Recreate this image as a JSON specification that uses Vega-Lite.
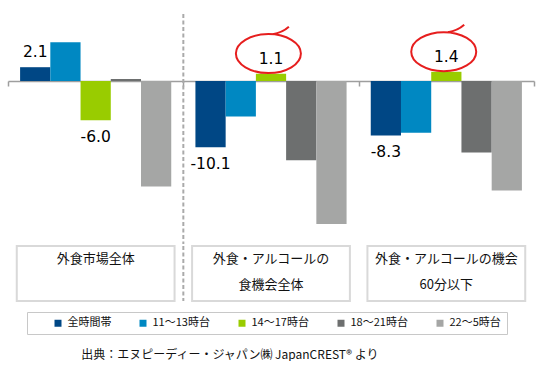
{
  "$schema": "https://vega.github.io/schema/vega-lite/v6.json",
  "padding": {"left": 7, "top": 13, "right": 4, "bottom": 0},
  "background": "white",
  "spacing": 0,
  "config": {
    "view": {"stroke": null},
    "axisX": {"labels": false, "tickBand": "extent", "tickSize": 5, "tickColor": "#9e9e9e", "domainColor": "#9e9e9e", "domainWidth": 1.5, "tickWidth": 1.5, "grid": false, "offset": -163}
  },
  "datasets": {
    "bars": [
      {"group": "外食市場全体", "series": "全時間帯", "value": 2.1, "label": "2.1"},
      {"group": "外食市場全体", "series": "11～13時台", "value": 5.9, "label": ""},
      {"group": "外食市場全体", "series": "14～17時台", "value": -6.0, "label": "-6.0"},
      {"group": "外食市場全体", "series": "18～21時台", "value": 0.3, "label": ""},
      {"group": "外食市場全体", "series": "22～5時台", "value": -16.1, "label": ""},
      {"group": "外食・アルコールの食機会全体", "series": "全時間帯", "value": -10.1, "label": "-10.1"},
      {"group": "外食・アルコールの食機会全体", "series": "11～13時台", "value": -5.4, "label": ""},
      {"group": "外食・アルコールの食機会全体", "series": "14～17時台", "value": 1.1, "label": "1.1"},
      {"group": "外食・アルコールの食機会全体", "series": "18～21時台", "value": -12.1, "label": ""},
      {"group": "外食・アルコールの食機会全体", "series": "22～5時台", "value": -21.8, "label": ""},
      {"group": "外食・アルコールの機会60分以下", "series": "全時間帯", "value": -8.3, "label": "-8.3"},
      {"group": "外食・アルコールの機会60分以下", "series": "11～13時台", "value": -7.9, "label": ""},
      {"group": "外食・アルコールの機会60分以下", "series": "14～17時台", "value": 1.4, "label": "1.4"},
      {"group": "外食・アルコールの機会60分以下", "series": "18～21時台", "value": -10.9, "label": ""},
      {"group": "外食・アルコールの機会60分以下", "series": "22～5時台", "value": -16.7, "label": ""}
    ],
    "groups": [
      {"group": "外食市場全体", "label": "外食市場全体\n"},
      {"group": "外食・アルコールの食機会全体", "label": "外食・アルコールの\n食機会全体"},
      {"group": "外食・アルコールの機会60分以下", "label": "外食・アルコールの機会\n60分以下"}
    ]
  },
  "title": {"text": "出典：エヌピーディー・ジャパン㈱ JapanCREST® より", "orient": "bottom", "anchor": "start", "dx": 74, "offset": 15, "fontSize": 12, "fontWeight": "normal", "font": "Noto Sans CJK JP", "color": "#111111", "baseline": "top"},
  "vconcat": [
    {
      "width": 526,
      "height": 230,
      "data": {"name": "bars"},
      "layer": [
        {
          "mark": {"type": "bar"},
          "encoding": {
            "x": {"field": "group", "type": "nominal", "title": null, "sort": ["外食市場全体", "外食・アルコールの食機会全体", "外食・アルコールの機会60分以下"], "scale": {"paddingInner": 0, "paddingOuter": 0}},
            "xOffset": {"field": "series", "type": "nominal", "sort": ["全時間帯", "11～13時台", "14～17時台", "18～21時台", "22～5時台"], "scale": {"paddingInner": 0, "paddingOuter": 0.4}},
            "y": {"field": "value", "type": "quantitative", "scale": {"domain": [-24.85, 10.21], "nice": false, "zero": false}, "axis": null},
            "color": {
              "field": "series", "type": "nominal",
              "sort": ["全時間帯", "11～13時台", "14～17時台", "18～21時台", "22～5時台"],
              "scale": {"domain": ["全時間帯", "11～13時台", "14～17時台", "18～21時台", "22～5時台"], "range": ["#004785", "#0088c2", "#99cc00", "#6d6f6f", "#a5a6a5"]},
              "legend": {"orient": "none", "legendX": 19, "legendY": 298, "direction": "horizontal", "title": " ", "titleOrient": "left", "titlePadding": 20, "symbolType": "square", "symbolSize": 49, "symbolStrokeWidth": 0, "labelFont": "Noto Sans CJK JP", "labelFontSize": 11, "labelColor": "#111111", "labelOffset": 4, "columnPadding": 26, "padding": 5.5, "strokeColor": "#c8c8c8"}
            }
          }
        },
        {
          "transform": [{"filter": "datum.label !== '' && datum.value > 0"}],
          "mark": {"type": "text", "dy": -15, "baseline": "middle", "font": "DejaVu Sans", "fontSize": 15.5, "color": "#000000"},
          "encoding": {
            "x": {"field": "group", "type": "nominal", "title": null, "sort": ["外食市場全体", "外食・アルコールの食機会全体", "外食・アルコールの機会60分以下"]},
            "xOffset": {"field": "series", "type": "nominal", "sort": ["全時間帯", "11～13時台", "14～17時台", "18～21時台", "22～5時台"]},
            "y": {"field": "value", "type": "quantitative"},
            "text": {"field": "label"}
          }
        },
        {
          "transform": [{"filter": "datum.label !== '' && datum.value < 0"}],
          "mark": {"type": "text", "dy": 17, "baseline": "middle", "font": "DejaVu Sans", "fontSize": 15.5, "color": "#000000"},
          "encoding": {
            "x": {"field": "group", "type": "nominal", "title": null, "sort": ["外食市場全体", "外食・アルコールの食機会全体", "外食・アルコールの機会60分以下"]},
            "xOffset": {"field": "series", "type": "nominal", "sort": ["全時間帯", "11～13時台", "14～17時台", "18～21時台", "22～5時台"]},
            "y": {"field": "value", "type": "quantitative"},
            "text": {"field": "label"}
          }
        },
        {
          "transform": [{"filter": "datum.series === '14～17時台' && datum.value > 0"}],
          "mark": {"type": "point", "shape": "M-1.08,-0.62 A1,0.6 0 1,0 0.92,-0.62 A1,0.6 0 1,0 -1.08,-0.62 M0.05,-1.22 Q0.35,-1.27 0.55,-1.45", "size": 4225, "filled": false, "stroke": "#e61e1e", "strokeWidth": 2, "opacity": 1},
          "encoding": {
            "x": {"field": "group", "type": "nominal", "title": null, "sort": ["外食市場全体", "外食・アルコールの食機会全体", "外食・アルコールの機会60分以下"]},
            "xOffset": {"field": "series", "type": "nominal", "sort": ["全時間帯", "11～13時台", "14～17時台", "18～21時台", "22～5時台"]},
            "y": {"field": "value", "type": "quantitative"}
          }
        },
        {
          "transform": [{"filter": "datum.group === '外食・アルコールの食機会全体' && datum.series === '全時間帯'"}],
          "mark": {"type": "rule", "color": "#aaaaaa", "strokeWidth": 2, "strokeDash": [4, 2.5]},
          "encoding": {
            "x": {"field": "group", "type": "nominal", "title": null, "bandPosition": 0, "sort": ["外食市場全体", "外食・アルコールの食機会全体", "外食・アルコールの機会60分以下"]}
          }
        }
      ]
    },
    {
      "width": 526,
      "height": 55,
      "data": {"name": "groups"},
      "layer": [
        {
          "mark": {"type": "bar", "width": {"band": 0.9}, "fill": "white", "stroke": "#d9d9d9", "strokeWidth": 2},
          "encoding": {
            "x": {"field": "group", "type": "nominal", "title": null, "axis": null, "sort": ["外食市場全体", "外食・アルコールの食機会全体", "外食・アルコールの機会60分以下"], "scale": {"paddingInner": 0, "paddingOuter": 0}}
          }
        },
        {
          "mark": {"type": "text", "lineBreak": "\n", "lineHeight": 26, "font": "Noto Sans CJK JP", "fontSize": 13, "dy": -15, "baseline": "middle", "color": "#111111"},
          "encoding": {
            "x": {"field": "group", "type": "nominal", "title": null, "axis": null, "sort": ["外食市場全体", "外食・アルコールの食機会全体", "外食・アルコールの機会60分以下"]},
            "text": {"field": "label"}
          }
        },
        {
          "transform": [{"filter": "datum.group === '外食・アルコールの食機会全体'"}],
          "mark": {"type": "rule", "color": "#aaaaaa", "strokeWidth": 2, "strokeDash": [4, 2.5]},
          "encoding": {
            "x": {"field": "group", "type": "nominal", "title": null, "axis": null, "bandPosition": 0, "sort": ["外食市場全体", "外食・アルコールの食機会全体", "外食・アルコールの機会60分以下"]}
          }
        }
      ]
    }
  ]
}
